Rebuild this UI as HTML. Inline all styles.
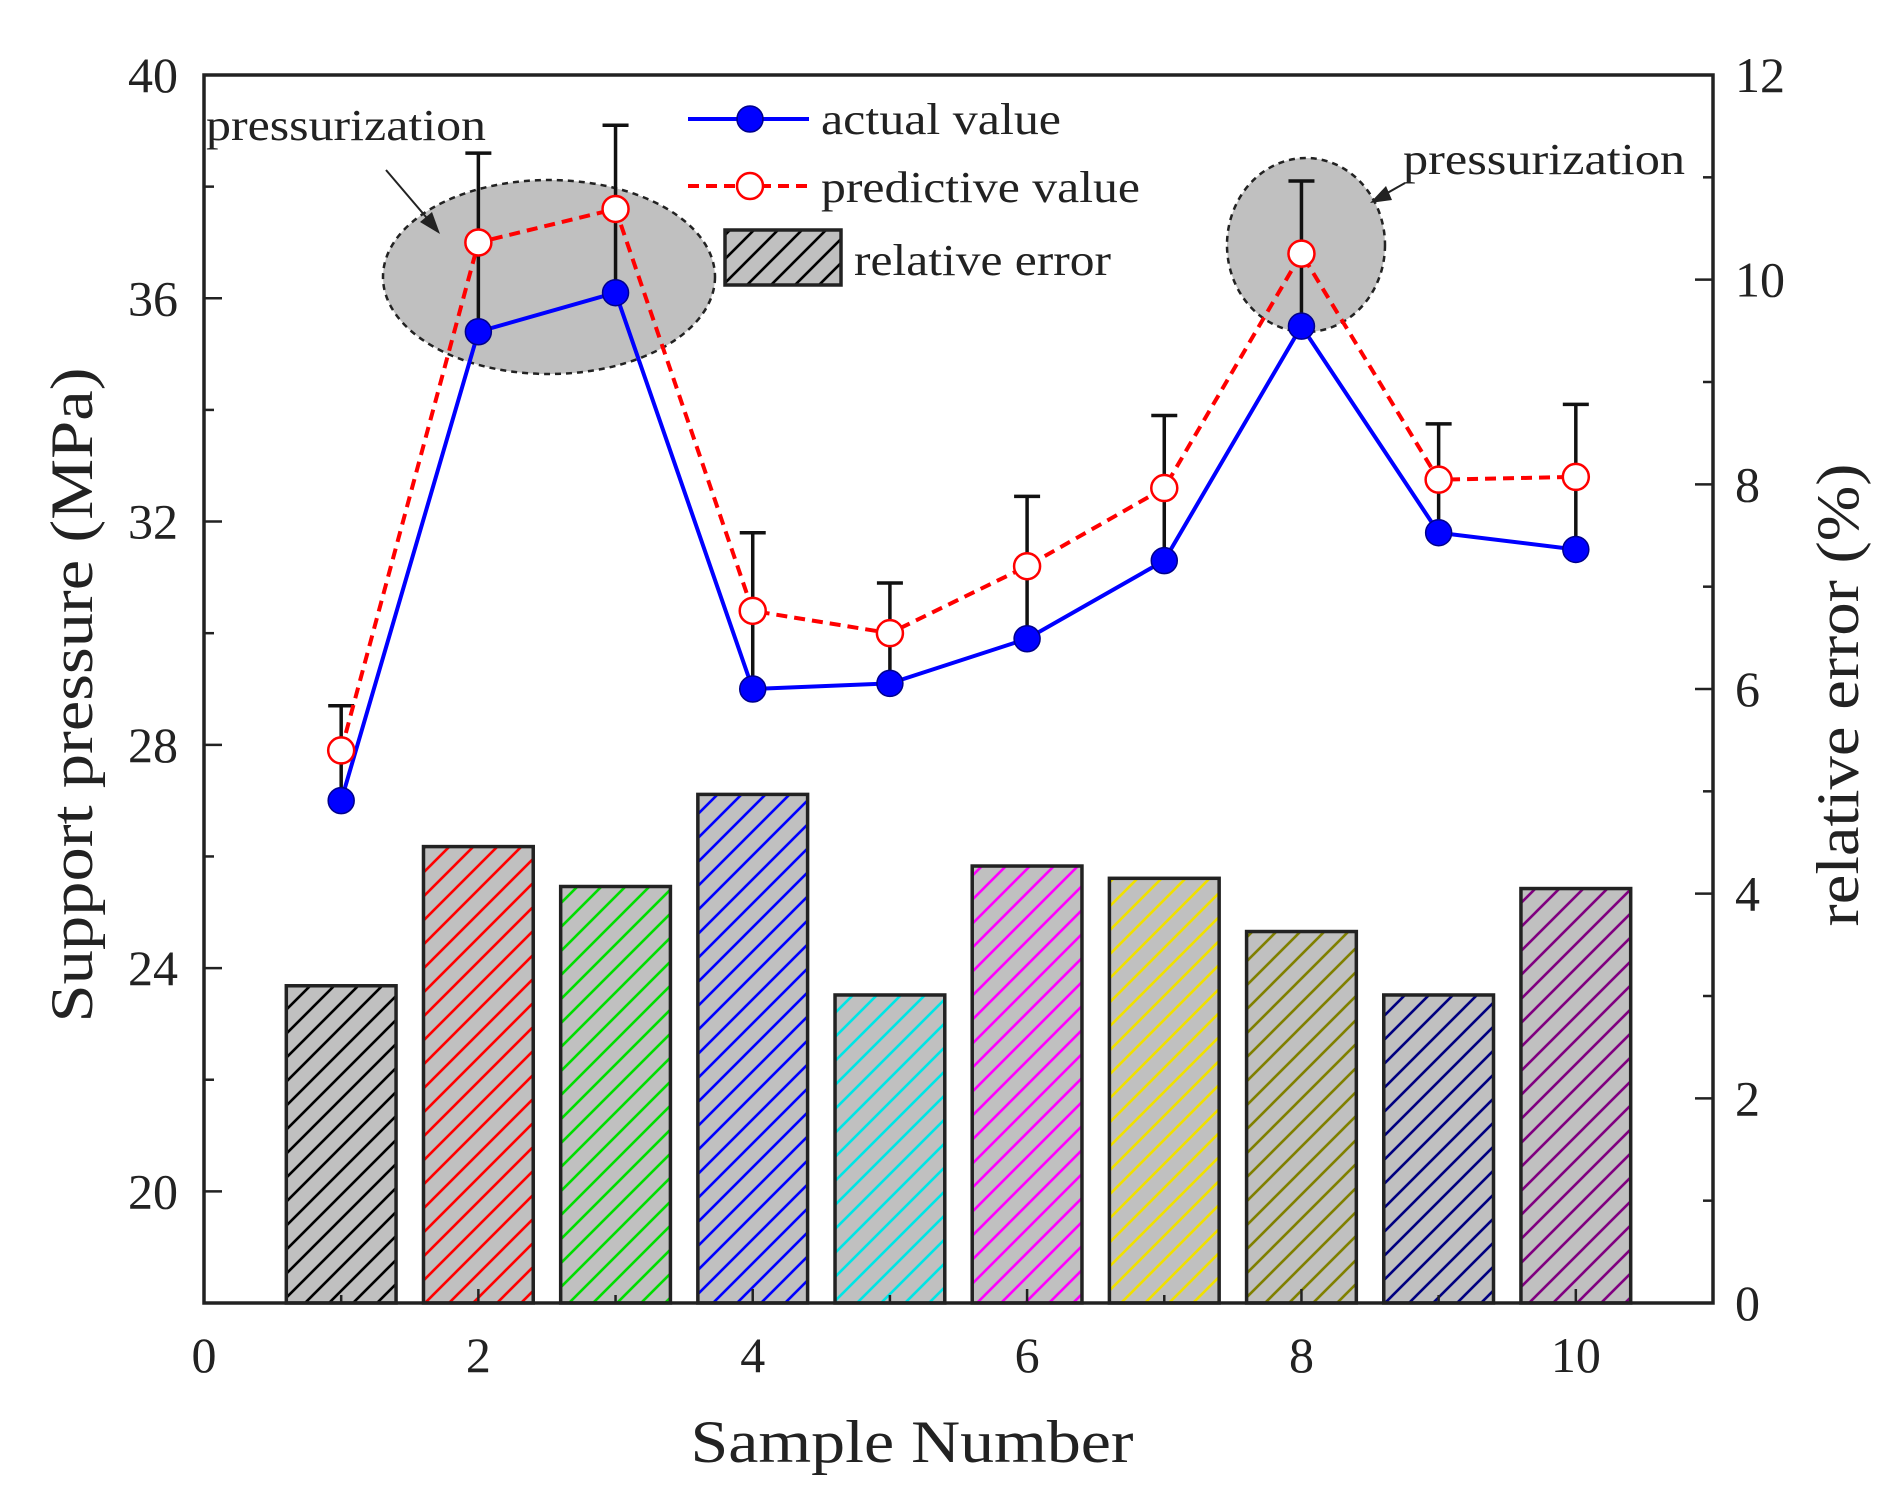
<!DOCTYPE html>
<html><head><meta charset="utf-8"><style>
html,body{margin:0;padding:0;background:#fff}
svg{display:block;font-family:"Liberation Serif",serif}
</style></head><body>
<svg id="chart" width="1901" height="1502" viewBox="0 0 1901 1502" xmlns="http://www.w3.org/2000/svg">
<defs></defs>
<g id="bars"></g>
<g id="ellipses">
<ellipse cx="549" cy="277" rx="166" ry="97" fill="#c0c0c0" stroke="#222" stroke-width="2.5" stroke-dasharray="6,5"/>
<ellipse cx="1306" cy="245" rx="79" ry="87" fill="#c0c0c0" stroke="#222" stroke-width="2.5" stroke-dasharray="6,5"/>
</g>
<g id="lines"></g>
<g id="axes">
<rect x="204" y="75" width="1509" height="1228" fill="none" stroke="#222" stroke-width="3.5"/>
</g>
<g font-size="44" fill="#222">
<text x="206" y="140" textLength="280" lengthAdjust="spacingAndGlyphs">pressurization</text>
<line x1="386" y1="170" x2="432" y2="224" stroke="#222" stroke-width="2"/>
<polygon points="440,234 420,222 432,212" fill="#222"/>
<text x="1403" y="174" textLength="282" lengthAdjust="spacingAndGlyphs">pressurization</text>
<line x1="1405" y1="183" x2="1382" y2="196" stroke="#222" stroke-width="2"/>
<polygon points="1370,203 1386,186 1392,200" fill="#222"/>
</g>
<g font-size="44" fill="#222">
<g>
<line x1="688" y1="119" x2="809" y2="119" stroke="#0000ff" stroke-width="4"/>
<circle cx="750" cy="119" r="13" fill="#0000ff" stroke="#00008b" stroke-width="1.5"/>
<text x="821" y="134" textLength="240" lengthAdjust="spacingAndGlyphs">actual value</text></g>
<g>
<line x1="688" y1="186" x2="809" y2="186" stroke="#ff0000" stroke-width="4" stroke-dasharray="11,7"/>
<circle cx="750" cy="186" r="13" fill="#fff" stroke="#ff0000" stroke-width="2.5"/>
<text x="821" y="202" textLength="319" lengthAdjust="spacingAndGlyphs">predictive value</text></g>
<g>
<rect id="legbox" x="725" y="230" width="116" height="55" fill="#c0c0c0" stroke="#222" stroke-width="3.5"/>
<text x="854" y="275" textLength="257" lengthAdjust="spacingAndGlyphs">relative error</text></g>
</g>
<g id="labels" fill="#222"></g>
</svg>
<script>
const samples = [1,2,3,4,5,6,7,8,9,10];
const actualValues = [27.0,35.4,36.1,29.0,29.1,29.9,31.3,35.5,31.8,31.5];
const predictiveValues = [27.9,37.0,37.6,30.4,30.0,31.2,32.6,36.8,32.75,32.8];
const errorBarTops = [28.7,38.6,39.1,31.8,30.9,32.45,33.9,38.1,33.75,34.1];
const relativeErrors = [3.1,4.46,4.07,4.97,3.01,4.27,4.15,3.63,3.01,4.05];
const barColors = ['#000000','#ff0000','#00dd00','#0000ff','#00e5e5','#ff00ff','#f0e000','#808000','#000080','#800080'];
const xTicks = [0,2,4,6,8,10];
const yLeftTicks = [20,24,28,32,36,40];
const yRightTicks = [0,2,4,6,8,10,12];

const NS='http://www.w3.org/2000/svg';
const X0=204,X1=1713,Y0=75,Y1=1303;
const xs=v=>X0+(v-0)/(11-0)*(X1-X0);
const yl=v=>Y1-(v-18)/(40-18)*(Y1-Y0);
const yr=v=>Y1-(v-0)/12*(Y1-Y0);
function mk(tag,attrs,parent){const e=document.createElementNS(NS,tag);for(const k in attrs)e.setAttribute(k,attrs[k]);parent.appendChild(e);return e;}
const svg=document.getElementById('chart');
const defs=svg.querySelector('defs');
barColors.forEach((c,i)=>{
  const p=mk('pattern',{id:'h'+i,patternUnits:'userSpaceOnUse',width:24,height:24},defs);
  mk('rect',{x:0,y:0,width:24,height:24,fill:'#c0c0c0'},p);
  mk('path',{d:'M-2,26 L26,-2 M-14,14 L14,-14 M10,38 L38,10',stroke:c,'stroke-width':2.6},p);
});
document.getElementById('legbox').setAttribute('fill','url(#h0)');
const bars=document.getElementById('bars');
const bw=0.8*(xs(1)-xs(0));
samples.forEach((s,i)=>{
  const y=yr(relativeErrors[i]);
  const r=mk('rect',{x:xs(s)-bw/2,y:y,width:bw,height:Y1-y,fill:'url(#h'+i+')',stroke:'#222','stroke-width':3.5},bars);
  
  
});
const lines=document.getElementById('lines');
samples.forEach((s,i)=>{
  const g=mk('g',{},lines);
  
  
  mk('line',{x1:xs(s),y1:yl(actualValues[i]),x2:xs(s),y2:yl(errorBarTops[i]),stroke:'#111','stroke-width':3.5},g);
  mk('line',{x1:xs(s)-13,y1:yl(errorBarTops[i]),x2:xs(s)+13,y2:yl(errorBarTops[i]),stroke:'#111','stroke-width':3.5},g);
});
const pp=mk('polyline',{points:samples.map((s,i)=>xs(s)+','+yl(predictiveValues[i])).join(' '),fill:'none',stroke:'#ff0000','stroke-width':4,'stroke-dasharray':'11,7'},lines);


const ap=mk('polyline',{points:samples.map((s,i)=>xs(s)+','+yl(actualValues[i])).join(' '),fill:'none',stroke:'#0000ff','stroke-width':4},lines);


samples.forEach((s,i)=>{
  const c=mk('circle',{cx:xs(s),cy:yl(actualValues[i]),r:13,fill:'#0000ff',stroke:'#00008b','stroke-width':1.5},lines);
  
  
  const d=mk('circle',{cx:xs(s),cy:yl(predictiveValues[i]),r:13,fill:'#fff',stroke:'#ff0000','stroke-width':2.5},lines);
  
  
});
const axes=document.getElementById('axes'), labels=document.getElementById('labels');
for(let v=18;v<=40;v+=2){const major=yLeftTicks.includes(v);const t=mk('line',{x1:X0,y1:yl(v),x2:X0+(major?18:10),y2:yl(v),stroke:'#222','stroke-width':2.5},axes);
  
  }
for(let v=0;v<=12;v+=1){const major=v%2===0;const t=mk('line',{x1:X1,y1:yr(v),x2:X1-(major?18:10),y2:yr(v),stroke:'#222','stroke-width':2.5},axes);
  
  }
for(let v=0;v<=11;v+=1){const major=v%2===0;const t=mk('line',{x1:xs(v),y1:Y1,x2:xs(v),y2:Y1-(major?14:8),stroke:'#222','stroke-width':2.5},axes);
  
  }
yLeftTicks.forEach(v=>{const t=mk('text',{x:178,y:yl(v)+17,'text-anchor':'end','font-size':50},labels);t.textContent=v;
  
  });
yRightTicks.forEach(v=>{const t=mk('text',{x:1735,y:yr(v)+17,'font-size':50},labels);t.textContent=v;
  
  });
xTicks.forEach(v=>{const t=mk('text',{x:xs(v),y:1372,'text-anchor':'middle','font-size':50},labels);t.textContent=v;
  
  });
let t=mk('text',{x:912,y:1462,'text-anchor':'middle','font-size':60,textLength:443,lengthAdjust:'spacingAndGlyphs'},labels);t.textContent='Sample Number';


t=mk('text',{x:0,y:0,'text-anchor':'middle','font-size':60,textLength:655,lengthAdjust:'spacingAndGlyphs',transform:'translate(92,695) rotate(-90)'},labels);t.textContent='Support pressure (MPa)';


t=mk('text',{x:0,y:0,'text-anchor':'middle','font-size':60,textLength:463,lengthAdjust:'spacingAndGlyphs',transform:'translate(1858,695) rotate(-90)'},labels);t.textContent='relative error (%)';


</script>
</body></html>
